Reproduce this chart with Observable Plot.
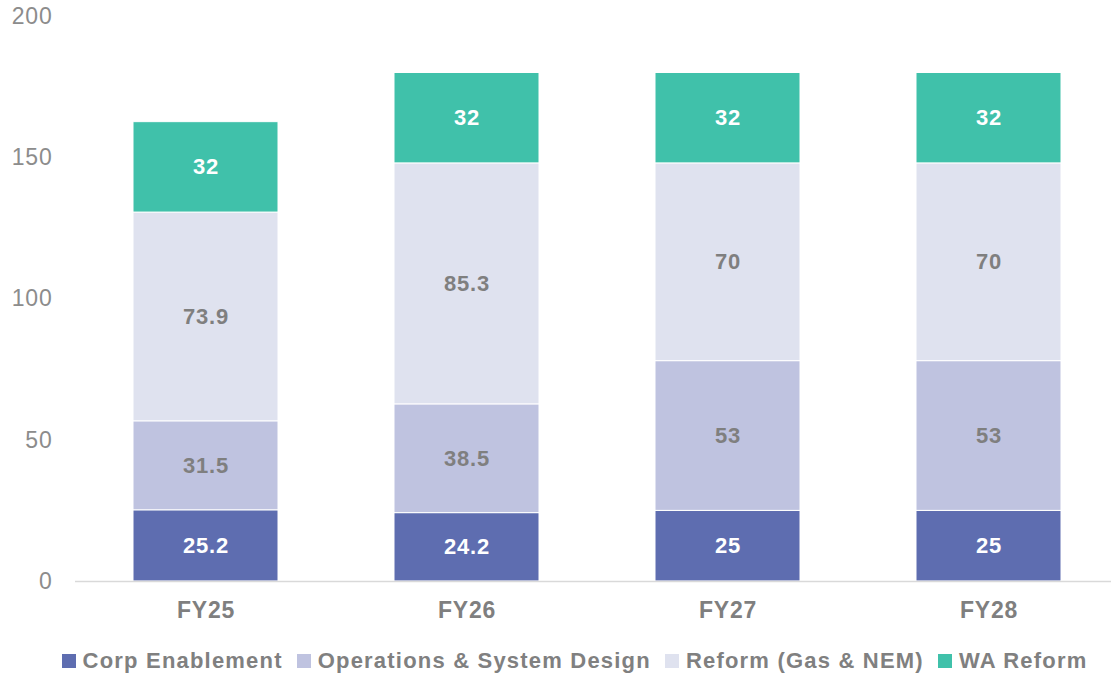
<!DOCTYPE html>
<html>
<head>
<meta charset="utf-8">
<script src="https://cdn.jsdelivr.net/npm/d3@7"></script>
<script src="https://cdn.jsdelivr.net/npm/@observablehq/plot@0.6"></script>
<style>
  html, body { margin: 0; padding: 0; background: #fff; }
  body { width: 1111px; height: 673px; overflow: hidden; font-family: "Liberation Sans", Arial, sans-serif; }
  #legend { display: flex; justify-content: center; align-items: center; gap: 14px; margin-top: 8px; padding-left: 38px;
    font-family: "Liberation Sans", Arial, sans-serif; font-weight: bold; font-size: 22px; letter-spacing: 1.2px; color: #808080; }
  #legend .item { display: flex; align-items: center; gap: 7px; }
  #legend .sw { width: 14px; height: 14px; display: inline-block; }
</style>
</head>
<body>
<div id="chart"></div>
<div id="legend"></div>
<script>
const years = ["FY25", "FY26", "FY27", "FY28"];
const seriesNames = ["Corp Enablement", "Operations & System Design", "Reform (Gas & NEM)", "WA Reform"];
const corpEnablement = [25.2, 24.2, 25, 25];
const opsSystemDesign = [31.5, 38.5, 53, 53];
const reformGasNem = [73.9, 85.3, 70, 70];
const waReform = [32, 32, 32, 32];
const seriesColors = ["#5E6DB0", "#BFC3E0", "#DFE2EF", "#40C1AA"];
const labelColors = ["#ffffff", "#7f7f7f", "#7f7f7f", "#ffffff"];
const yTicks = [0, 50, 100, 150, 200];

const seriesValues = [corpEnablement, opsSystemDesign, reformGasNem, waReform];
const data = [];
seriesNames.forEach((s, si) => {
  years.forEach((y, yi) => {
    data.push({year: y, series: s, value: seriesValues[si][yi], labelColor: labelColors[si]});
  });
});

const chart = Plot.plot({
  width: 1111,
  height: 640,
  marginTop: 16,
  marginBottom: 59,
  marginLeft: 75,
  marginRight: 0,
  style: {fontFamily: "'Liberation Sans', Arial, sans-serif", background: "#fff", letterSpacing: "0.8px"},
  x: {domain: years, paddingInner: 0.444, paddingOuter: 0.2, align: 0.537, label: null},
  y: {domain: [0, 200], ticks: yTicks, label: null},
  color: {domain: seriesNames, range: seriesColors},
  marks: [
    Plot.axisY({ticks: yTicks, tickSize: 0, tickPadding: 23, fontSize: 23, fill: "#8c8c8c", label: null}),
    Plot.axisX({tickSize: 0, tickPadding: 20, fontSize: 23, fontWeight: "bold", fill: "#7f7f7f", label: null}),
    Plot.barY(data, Plot.stackY({x: "year", y: "value", z: "series", fill: "series", order: null, stroke: "#ffffff", strokeWidth: 1})),
    Plot.ruleY([0], {stroke: "#d9d9d9", strokeWidth: 1.5}),
    Plot.text(data, Plot.stackY({x: "year", y: "value", z: "series", order: null, text: d => String(d.value), fill: "labelColor", fontSize: 22, fontWeight: "bold"}))
  ]
});
document.getElementById("chart").appendChild(chart);

const legend = document.getElementById("legend");
seriesNames.forEach((s, i) => {
  const item = document.createElement("span");
  item.className = "item";
  const sw = document.createElement("span");
  sw.className = "sw";
  sw.style.background = seriesColors[i];
  const t = document.createElement("span");
  t.textContent = s;
  item.appendChild(sw);
  item.appendChild(t);
  legend.appendChild(item);
});
</script>
</body>
</html>
